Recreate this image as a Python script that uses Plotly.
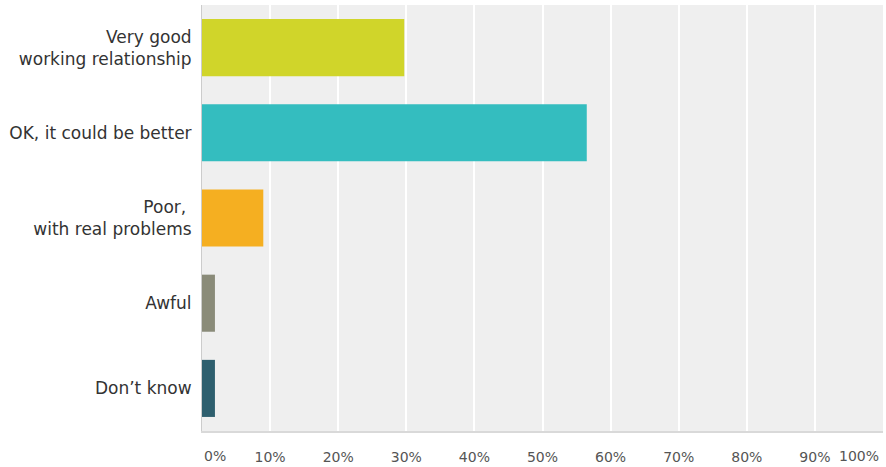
import plotly.graph_objects as go

categories = ["Very good<br>working relationship", "OK, it could be better",
              "Poor,\u00a0<br>with real problems", "Awful", "Don\u2019t know"]
values = [29.7, 56.5, 9.0, 1.9, 1.9]
colors = ["#D0D52A", "#34BDBF", "#F5AF21", "#8A8B79", "#2E5F6E"]
tick_vals = [10, 20, 30, 40, 50, 60, 70, 80, 90]
tick_text = ["10%", "20%", "30%", "40%", "50%", "60%", "70%", "80%", "90%"]
edge_labels = [(0, "0%", "left", 0), (100, "100%", "right", -2)]

fig = go.Figure(go.Bar(
    x=values, y=categories, orientation="h",
    marker=dict(color=colors, line=dict(width=0)),
    hoverinfo="x+y",
))

fig.update_layout(
    width=886, height=467,
    margin=dict(l=202, r=3, t=5, b=36),
    paper_bgcolor="white", plot_bgcolor="#EFEFEF",
    bargap=0.33, showlegend=False,
    font=dict(family="DejaVu Sans, Verdana, sans-serif", size=13, color="#333333"),
)
fig.update_xaxes(
    range=[0, 100], tickvals=tick_vals, ticktext=tick_text, automargin=False,
    showgrid=True, gridcolor="white", gridwidth=1.5,
    zeroline=False, showline=True, linecolor="#D9D9D9", linewidth=2,
    ticks="outside", ticklen=12, tickcolor="rgba(0,0,0,0)",
    tickfont=dict(size=14, color="#555555"), fixedrange=True,
)
fig.update_yaxes(
    autorange="reversed", showgrid=False, zeroline=False, automargin=False,
    showline=True, linecolor="#CCCCCC", linewidth=1, mirror=False,
    ticks="outside", ticklen=6, tickcolor="rgba(0,0,0,0)",
    tickfont=dict(size=17, color="#333333"), fixedrange=True,
)
for xv, txt, anchor, shift in edge_labels:
    fig.add_annotation(x=xv, y=0, xref="x", yref="paper", text=txt,
                       showarrow=False, xanchor=anchor, yanchor="top",
                       yshift=-15, xshift=shift,
                       font=dict(size=14, color="#555555"))

fig.write_html(
    "out.html",
    config={"displayModeBar": False},
    post_script="document.body.style.margin='0';document.body.style.overflow='hidden';",
)
